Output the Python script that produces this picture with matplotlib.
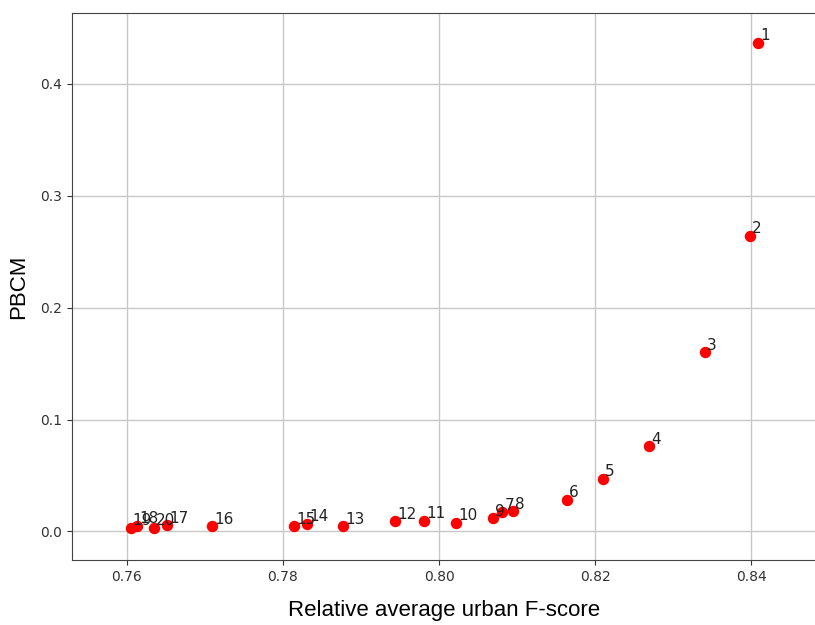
import matplotlib
matplotlib.use("Agg")
import matplotlib.pyplot as plt

labels = [str(i) for i in range(1, 21)]
fscore = [0.8409, 0.8398, 0.8340, 0.8269, 0.8210, 0.8164, 0.8081, 0.8095, 0.8069, 0.8022,
          0.7981, 0.7944, 0.7877, 0.7831, 0.7814, 0.7709, 0.7652, 0.7613, 0.7605, 0.7635]
pbcm = [0.4367, 0.264, 0.160, 0.076, 0.047, 0.028, 0.017, 0.018, 0.0116, 0.008,
        0.0098, 0.009, 0.0045, 0.007, 0.0045, 0.0045, 0.0054, 0.005, 0.003, 0.003]

fig = plt.figure(figsize=(8.15, 6.25), dpi=100)
ax = fig.add_axes([72/815, 65/625, 745/815, 547/625])
ax.scatter(fscore, pbcm, color='red', s=52, zorder=3)
for lab, x, y in zip(labels, fscore, pbcm):
    ax.annotate(lab, (x, y), xytext=(1.5, 2), textcoords='offset points',
                fontsize=11, color='#222222', zorder=4)
ax.set_xlim(0.753, 0.8484)
ax.set_ylim(-0.0255, 0.4634)
ax.set_xticks([0.76, 0.78, 0.80, 0.82, 0.84])
ax.set_yticks([0.0, 0.1, 0.2, 0.3, 0.4])
ax.grid(True, color='#c8c8c8', linewidth=1)
ax.set_axisbelow(True)
ax.tick_params(labelsize=10, colors='#333333')
ax.set_xlabel('Relative average urban F-score', fontsize=16, family='Liberation Sans', labelpad=12)
ax.set_ylabel('PBCM', fontsize=16, family='Liberation Sans', labelpad=8)
for s in ax.spines.values():
    s.set_color('#444444')
fig.savefig('out.png', dpi=100)
